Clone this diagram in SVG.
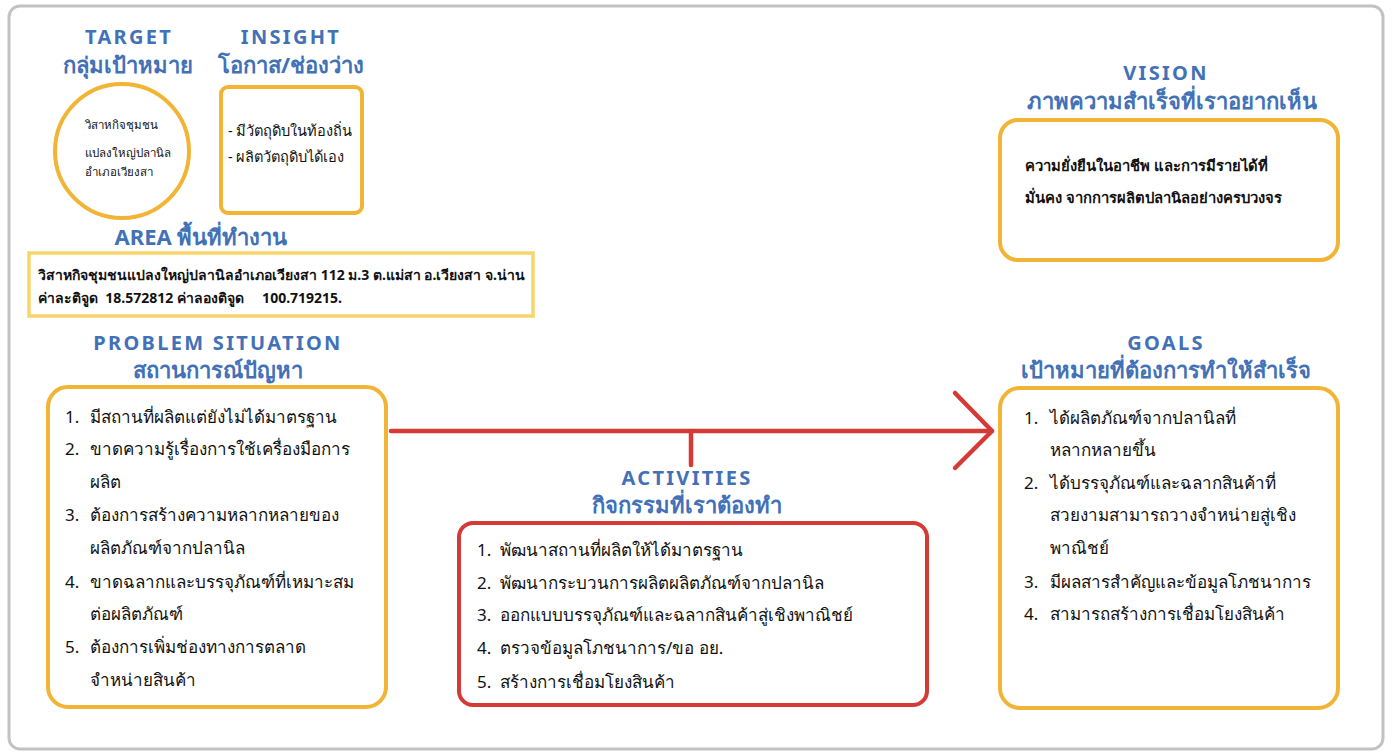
<svg xmlns="http://www.w3.org/2000/svg" width="1392" height="756" viewBox="0 0 1392 756">
<style>
.h{font-family:"Noto Sans","DejaVu Sans",sans-serif;font-weight:bold;fill:#4271b8;text-anchor:middle;}
.he{font-size:20px;letter-spacing:2.3px;}
.ht{font-size:22px;}
.t{font-family:"Noto Sans","DejaVu Sans",sans-serif;fill:#111;}
.li{font-size:17px;}
.sm{font-size:11.5px;}
.md{font-size:14px;}
.ins{font-size:14.6px;}
.vi{font-size:14.8px;}
.b{font-weight:bold;}
.ob{fill:#fff;stroke:#f1b434;stroke-width:4;}
.rb{fill:#fff;stroke:#d53a36;stroke-width:4;}
.conn{stroke:#d53a36;stroke-width:4.5;fill:none;stroke-linecap:round;stroke-linejoin:round;}
</style>
<rect x="0" y="0" width="1392" height="756" fill="#fff"/>
<rect x="9" y="6" width="1374" height="743" rx="11" fill="#fff" stroke="#c2c2c2" stroke-width="3"/>

<g id="target">
<text class="h he" x="129" y="44">TARGET</text>
<text class="h ht" x="128" y="73">กลุ่มเป้าหมาย</text>
<circle class="ob" cx="122" cy="151" r="67"/>
<text class="t sm" x="85" y="129">วิสาหกิจชุมชน</text>
<text class="t sm" x="85" y="157">แปลงใหญ่ปลานิล</text>
<text class="t sm" x="85" y="176">อำเภอเวียงสา</text>
</g>

<g id="insight">
<text class="h he" x="291" y="44">INSIGHT</text>
<text class="h ht" x="291" y="73">โอกาส/ช่องว่าง</text>
<rect class="ob" x="221" y="87" width="141" height="126" rx="7"/>
<text class="t ins" x="228" y="136">- มีวัตถุดิบในท้องถิ่น</text>
<text class="t ins" x="228" y="162">- ผลิตวัตถุดิบได้เอง</text>
</g>

<g id="area">
<text class="h ht" x="201" y="245">AREA พื้นที่ทำงาน</text>
<rect x="29" y="253" width="504" height="63" fill="#fff" stroke="#f7d56b" stroke-width="3.5"/>
<text class="t md b" x="38" y="280">วิสาหกิจชุมชนแปลงใหญ่ปลานิลอำเภอเวียงสา 112 ม.3 ต.แม่สา อ.เวียงสา จ.น่าน</text>
<text class="t md b" x="38" y="303" xml:space="preserve">ค่าละติจูด  18.572812 ค่าลองติจูด     100.719215.</text>
</g>

<g id="vision">
<text class="h he" x="1166" y="80">VISION</text>
<text class="h ht" x="1172" y="109">ภาพความสำเร็จที่เราอยากเห็น</text>
<rect class="ob" x="1000" y="120" width="338" height="140" rx="18"/>
<text class="t vi b" x="1025" y="171">ความยั่งยืนในอาชีพ และการมีรายได้ที่</text>
<text class="t vi b" x="1025" y="203">มั่นคง จากการผลิตปลานิลอย่างครบวงจร</text>
</g>

<g id="problem">
<text class="h he" x="218" y="350">PROBLEM SITUATION</text>
<text class="h ht" x="218" y="378">สถานการณ์ปัญหา</text>
<rect class="ob" x="48" y="387" width="338" height="320" rx="20"/>
<g class="t li">
<text x="65" y="423">1.</text><text x="90" y="423">มีสถานที่ผลิตแต่ยังไม่ได้มาตรฐาน</text>
<text x="65" y="455">2.</text><text x="90" y="455">ขาดความรู้เรื่องการใช้เครื่องมือการ</text>
<text x="90" y="488">ผลิต</text>
<text x="65" y="521">3.</text><text x="90" y="521">ต้องการสร้างความหลากหลายของ</text>
<text x="90" y="554">ผลิตภัณฑ์จากปลานิล</text>
<text x="65" y="588">4.</text><text x="90" y="588">ขาดฉลากและบรรจุภัณฑ์ที่เหมาะสม</text>
<text x="90" y="620">ต่อผลิตภัณฑ์</text>
<text x="65" y="653">5.</text><text x="90" y="653">ต้องการเพิ่มช่องทางการตลาด</text>
<text x="90" y="686">จำหน่ายสินค้า</text>
</g>
</g>

<g id="activities">
<text class="h he" x="687" y="485">ACTIVITIES</text>
<text class="h ht" x="687" y="513">กิจกรรมที่เราต้องทำ</text>
<rect class="rb" x="459" y="523" width="468" height="182" rx="14"/>
<g class="t li">
<text x="477" y="556">1.</text><text x="500" y="556">พัฒนาสถานที่ผลิตให้ได้มาตรฐาน</text>
<text x="477" y="589">2.</text><text x="500" y="589">พัฒนากระบวนการผลิตผลิตภัณฑ์จากปลานิล</text>
<text x="477" y="621">3.</text><text x="500" y="621">ออกแบบบรรจุภัณฑ์และฉลากสินค้าสู่เชิงพาณิชย์</text>
<text x="477" y="654">4.</text><text x="500" y="654">ตรวจข้อมูลโภชนาการ/ขอ อย.</text>
<text x="477" y="688">5.</text><text x="500" y="688">สร้างการเชื่อมโยงสินค้า</text>
</g>
</g>

<g id="goals">
<text class="h he" x="1166" y="350">GOALS</text>
<text class="h ht" x="1166" y="378">เป้าหมายที่ต้องการทำให้สำเร็จ</text>
<rect class="ob" x="1000" y="388" width="338" height="320" rx="20"/>
<g class="t li">
<text x="1024" y="424">1.</text><text x="1050" y="424">ได้ผลิตภัณฑ์จากปลานิลที่</text>
<text x="1050" y="456">หลากหลายขึ้น</text>
<text x="1024" y="489">2.</text><text x="1050" y="489">ได้บรรจุภัณฑ์และฉลากสินค้าที่</text>
<text x="1050" y="521">สวยงามสามารถวางจำหน่ายสู่เชิง</text>
<text x="1050" y="554">พาณิชย์</text>
<text x="1024" y="588">3.</text><text x="1050" y="588">มีผลสารสำคัญและข้อมูลโภชนาการ</text>
<text x="1024" y="620">4.</text><text x="1050" y="620">สามารถสร้างการเชื่อมโยงสินค้า</text>
</g>
</g>

<g id="connectors">
<path class="conn" d="M391 431 H992"/>
<path class="conn" d="M955 393 L992 431 L955 468"/>
<path class="conn" d="M691 431 V465"/>
</g>
</svg>
